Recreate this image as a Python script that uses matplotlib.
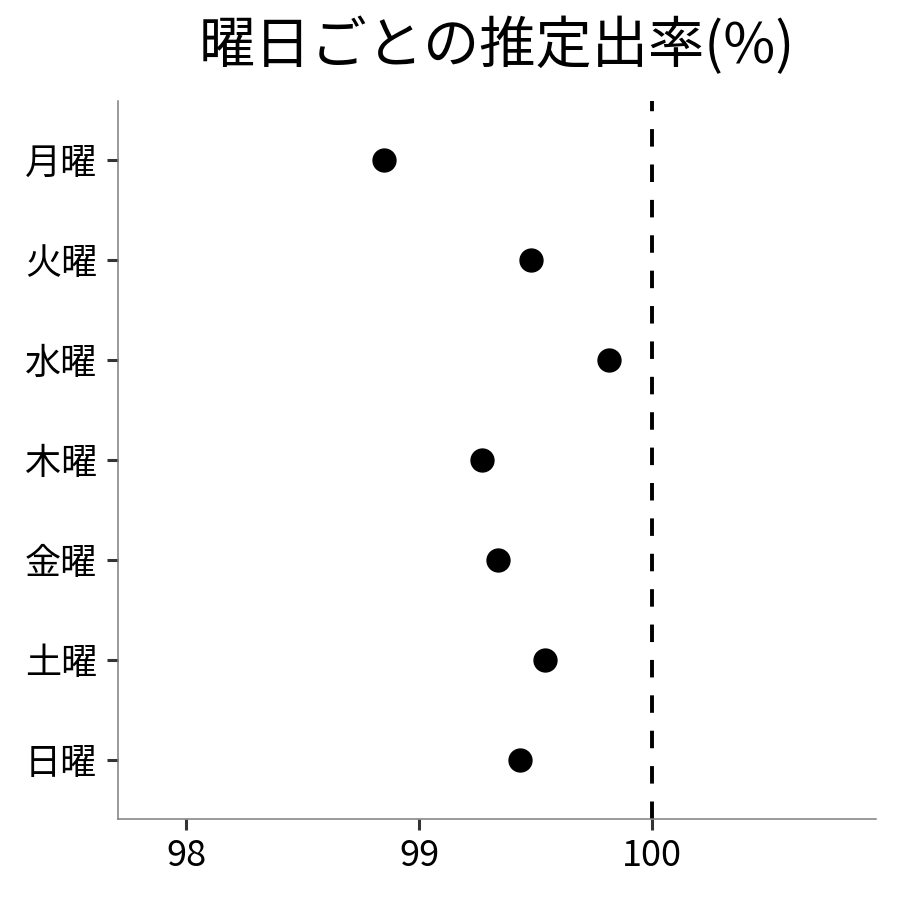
import matplotlib
matplotlib.use("Agg")
import matplotlib.pyplot as plt

plt.rcParams['font.family'] = ['Noto Sans CJK JP', 'DejaVu Sans']

days = ['月曜', '火曜', '水曜', '木曜', '金曜', '土曜', '日曜']
rates = [98.85, 99.48, 99.815, 99.27, 99.34, 99.54, 99.435]
xticks = [98, 99, 100]
ref_line = 100
title = '曜日ごとの推定出率(%)'

fig = plt.figure(figsize=(9, 9), dpi=100)
ax = fig.add_axes([118/900, 1-819/900, 758/900, 718/900])

n = len(days)
ypos = [n - i for i in range(n)]
ax.plot(rates, ypos, 'o', color='black', markersize=16.5, linestyle='none', zorder=3)
ax.axvline(ref_line, color='black', linestyle=(0, (4.5, 4.6)), linewidth=2.8, zorder=2)

ax.set_xlim(97.708, 100.961)
ax.set_ylim(0.41, n + 0.59)
ax.set_xticks(xticks)
ax.set_xticklabels([str(t) for t in xticks])
ax.set_yticks(ypos)
ax.set_yticklabels(days)

for s in ['top', 'right']:
    ax.spines[s].set_visible(False)
for s in ['left', 'bottom']:
    ax.spines[s].set_color('#7f7f7f')
    ax.spines[s].set_linewidth(1.1)

ax.tick_params(axis='both', length=8, width=2.2, color='#333333', labelsize=26, labelcolor='black')
ax.tick_params(axis='y', pad=7)
ax.tick_params(axis='x', pad=6)

fig.text(497/900, 1-47/900, title, ha='center', va='center', fontsize=40.5)

fig.savefig('out.png', dpi=100, facecolor='white')
